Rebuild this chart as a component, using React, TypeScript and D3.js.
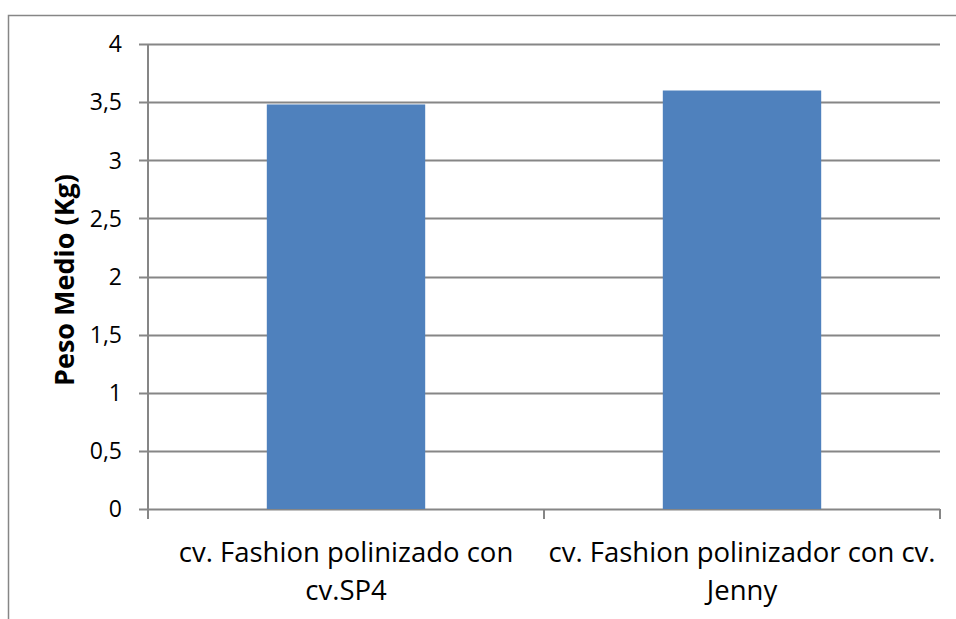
import { useEffect, useRef } from 'react'
import * as d3 from 'd3'

const categories = ['cv. Fashion polinizado con cv.SP4', 'cv. Fashion polinizador con cv. Jenny']
const categoryLines = [
    ['cv. Fashion polinizado con', 'cv.SP4'],
    ['cv. Fashion polinizador con cv.', 'Jenny'],
]
const values = [3.48, 3.6]
const yTicks = [0, 0.5, 1, 1.5, 2, 2.5, 3, 3.5, 4]

const W = 956
const H = 619

export default function App() {
    const svgRef = useRef<SVGSVGElement>(null)

    useEffect(() => {
        if (!svgRef.current) return
        const svg = d3.select(svgRef.current)
        svg.selectAll('*').remove()

        const font = 'Open Sans, sans-serif'
        const gray = '#868686'

        // outer frame of the chart area
        svg.append('rect')
            .attr('x', 8.5).attr('y', 15.5)
            .attr('width', 960).attr('height', 620)
            .attr('fill', 'white')
            .attr('stroke', gray).attr('stroke-width', 1.5)

        const left = 148, right = 940, top = 44, bottom = 509

        const x = d3.scaleBand().domain(categories).range([left, right]).paddingInner(0).paddingOuter(0)
        const y = d3.scaleLinear().domain([0, 4]).range([bottom, top])

        // gridlines
        svg.append('g').selectAll('line')
            .data(yTicks)
            .enter().append('line')
            .attr('x1', left - 9).attr('x2', right)
            .attr('y1', d => Math.round(y(d)) + 0.5).attr('y2', d => Math.round(y(d)) + 0.5)
            .attr('stroke', gray).attr('stroke-width', 2)

        // y axis line
        svg.append('line')
            .attr('x1', left).attr('x2', left)
            .attr('y1', top).attr('y2', bottom)
            .attr('stroke', gray).attr('stroke-width', 2)

        // x category ticks
        const bounds = [left, ...categories.map(c => x(c)! + x.bandwidth())]
        svg.append('g').selectAll('line')
            .data(bounds)
            .enter().append('line')
            .attr('x1', d => d).attr('x2', d => d)
            .attr('y1', bottom).attr('y2', bottom + 10)
            .attr('stroke', gray).attr('stroke-width', 2)

        // bars
        const barW = x.bandwidth() * 0.4
        svg.append('g').selectAll('rect')
            .data(values)
            .enter().append('rect')
            .attr('x', (d, i) => x(categories[i])! + (x.bandwidth() - barW) / 2)
            .attr('width', barW)
            .attr('y', d => y(d))
            .attr('height', d => bottom - y(d))
            .attr('fill', '#4f81bd')

        // y tick labels
        svg.append('g').selectAll('text')
            .data(yTicks)
            .enter().append('text')
            .attr('x', 122)
            .attr('y', d => y(d))
            .attr('dy', '0.36em')
            .attr('text-anchor', 'end')
            .style('font-family', font)
            .style('font-size', '23px')
            .attr('fill', 'black')
            .text(d => String(d).replace('.', ','))

        // category labels
        categoryLines.forEach((lines, i) => {
            const cx = x(categories[i])! + x.bandwidth() / 2
            lines.forEach((ln, j) => {
                svg.append('text')
                    .attr('x', cx)
                    .attr('y', 562 + j * 38)
                    .attr('text-anchor', 'middle')
                    .style('font-family', font)
                    .style('font-size', '27.5px')
                    .attr('fill', 'black')
                    .text(ln)
            })
        })

        // y title
        svg.append('text')
            .attr('transform', 'translate(74,280) rotate(-90)')
            .attr('text-anchor', 'middle')
            .style('font-family', font)
            .style('font-size', '27px')
            .style('font-weight', 'bold')
            .attr('fill', 'black')
            .text('Peso Medio (Kg)')
    }, [])

    return (
        <svg ref={svgRef} width={W} height={H}
            style={{ position: 'absolute', left: 0, top: 0, background: 'white' }} />
    )
}
